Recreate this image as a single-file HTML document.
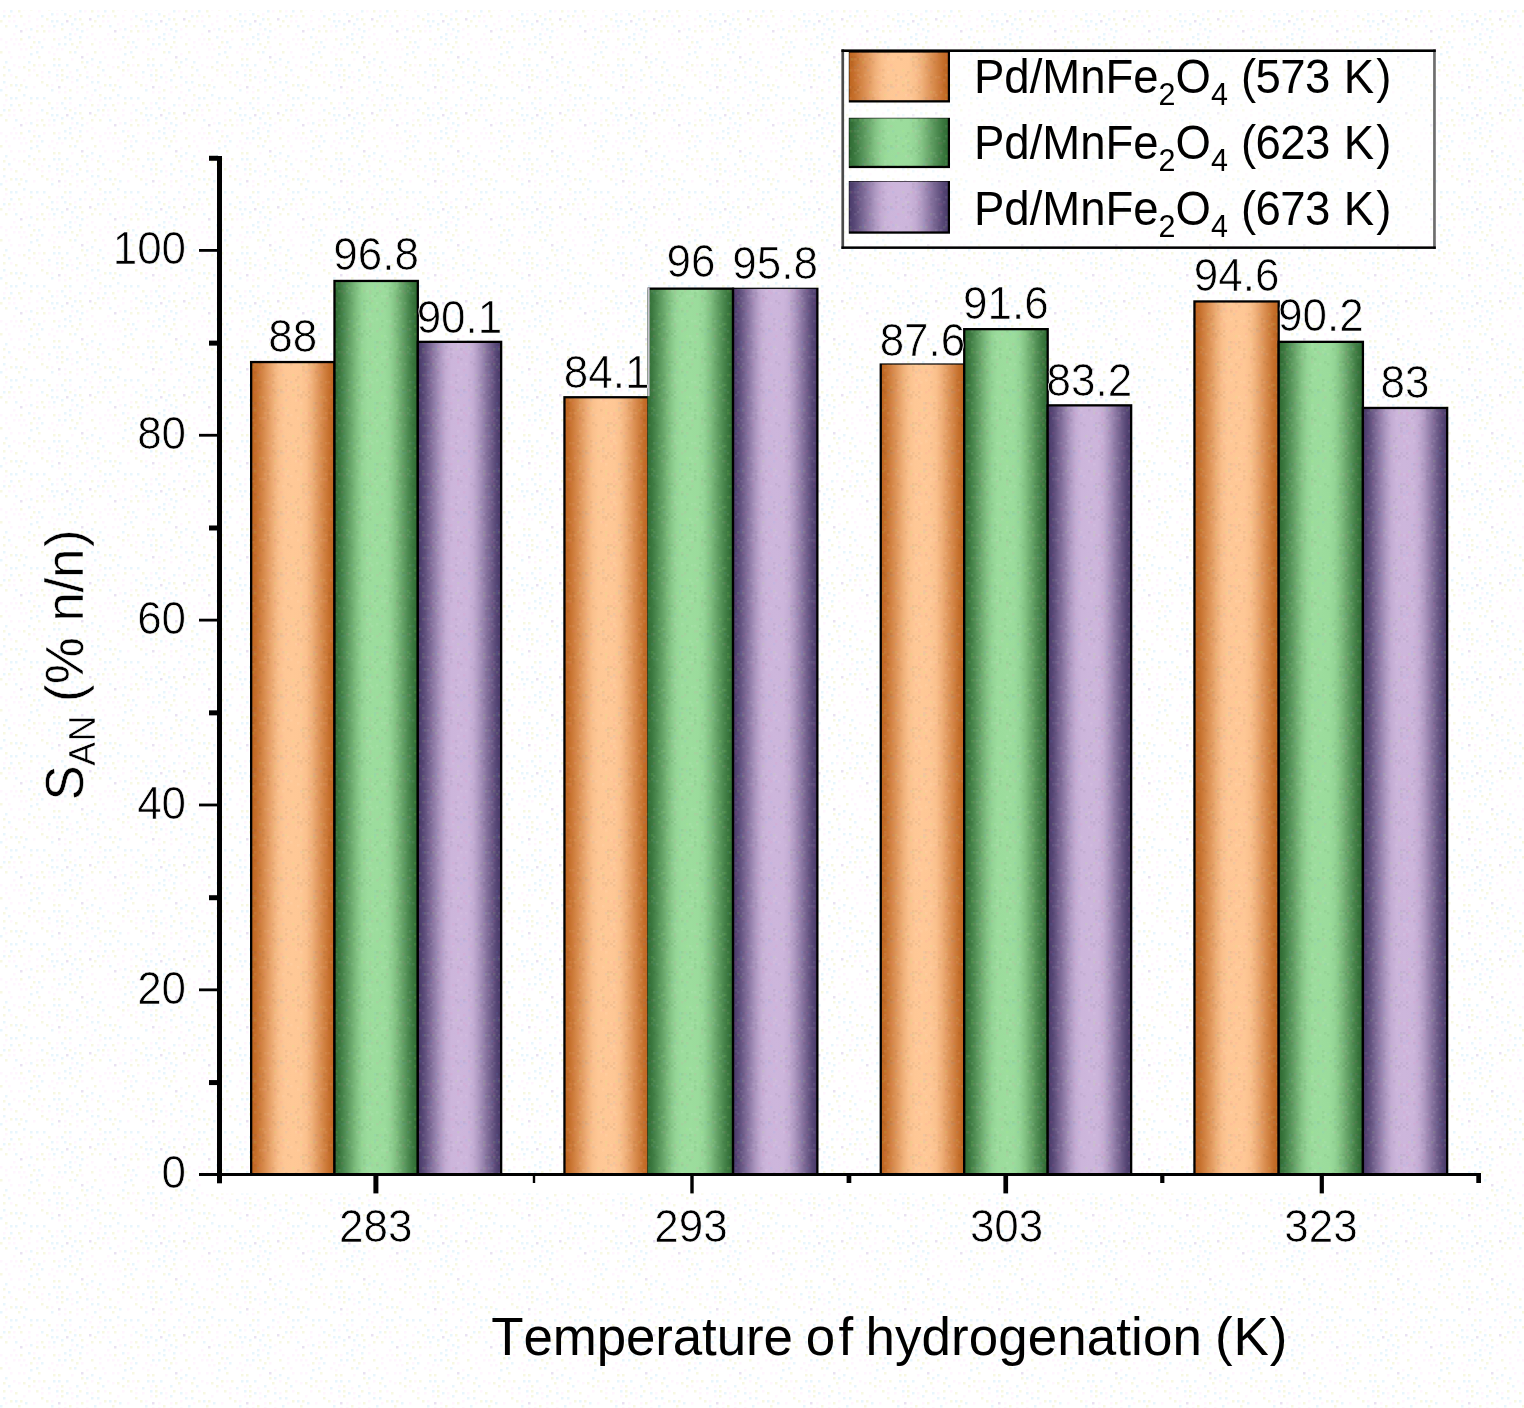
<!DOCTYPE html>
<html lang="en"><head><meta charset="utf-8"><title>Selectivity chart</title>
<style>
html,body{margin:0;padding:0;background:#fff;}
body{width:1524px;height:1408px;overflow:hidden;}
svg{display:block;}
text{font-family:"Liberation Sans", Arial, Helvetica, sans-serif;fill:#000;font-kerning:none;}
.t{font-size:46.1px;stroke:#fff;stroke-width:0.7px;paint-order:fill stroke;stroke-linejoin:round;}
.m{text-anchor:middle;}.e{text-anchor:end;}
.l{font-size:45.5px;}
.s{font-size:30.5px;}
.ax{font-size:52.9px;}
.as{font-size:35.5px;}
.th{stroke:#fff;stroke-width:0.5px;paint-order:fill stroke;}
</style></head><body>
<svg width="1524" height="1408" viewBox="0 0 1524 1408">
<defs>
<linearGradient id="o" x1="0" y1="0" x2="1" y2="0">
<stop offset="0" stop-color="#bf651f"/><stop offset="0.05" stop-color="#c56f2b"/><stop offset="0.1" stop-color="#cf7e3d"/><stop offset="0.18" stop-color="#df965a"/><stop offset="0.26" stop-color="#efaf78"/><stop offset="0.33" stop-color="#fac08c"/><stop offset="0.4" stop-color="#fec795"/><stop offset="0.5" stop-color="#ffc896"/><stop offset="0.6" stop-color="#fec795"/><stop offset="0.67" stop-color="#fac08c"/><stop offset="0.74" stop-color="#efaf78"/><stop offset="0.82" stop-color="#df965a"/><stop offset="0.9" stop-color="#cf7e3d"/><stop offset="0.95" stop-color="#c56f2b"/><stop offset="1" stop-color="#bf651f"/>
</linearGradient>
<linearGradient id="g" x1="0" y1="0" x2="1" y2="0">
<stop offset="0" stop-color="#2f6c33"/><stop offset="0.05" stop-color="#3a773e"/><stop offset="0.1" stop-color="#4a884e"/><stop offset="0.18" stop-color="#66a468"/><stop offset="0.26" stop-color="#81c182"/><stop offset="0.33" stop-color="#93d495"/><stop offset="0.4" stop-color="#9bdc9c"/><stop offset="0.5" stop-color="#9cdd9d"/><stop offset="0.6" stop-color="#9bdc9c"/><stop offset="0.67" stop-color="#93d495"/><stop offset="0.74" stop-color="#81c182"/><stop offset="0.82" stop-color="#66a468"/><stop offset="0.9" stop-color="#4a884e"/><stop offset="0.95" stop-color="#3a773e"/><stop offset="1" stop-color="#2f6c33"/>
</linearGradient>
<linearGradient id="p" x1="0" y1="0" x2="1" y2="0">
<stop offset="0" stop-color="#4a3b6b"/><stop offset="0.05" stop-color="#574776"/><stop offset="0.1" stop-color="#6b5a87"/><stop offset="0.18" stop-color="#8c78a4"/><stop offset="0.26" stop-color="#ac97c0"/><stop offset="0.33" stop-color="#c3acd3"/><stop offset="0.4" stop-color="#ccb5db"/><stop offset="0.5" stop-color="#cdb6dc"/><stop offset="0.6" stop-color="#ccb5db"/><stop offset="0.67" stop-color="#c3acd3"/><stop offset="0.74" stop-color="#ac97c0"/><stop offset="0.82" stop-color="#8c78a4"/><stop offset="0.9" stop-color="#6b5a87"/><stop offset="0.95" stop-color="#574776"/><stop offset="1" stop-color="#4a3b6b"/>
</linearGradient>
<pattern id="n" width="94" height="94" patternUnits="userSpaceOnUse">
<path fill="#fff6fe" d="M28 15h2.5v2.5h-2.5zM23 23h2.5v2.5h-2.5zM76 91h2.5v2.5h-2.5zM53 30h2.5v2.5h-2.5zM10 74h2.5v2.5h-2.5zM28 74h2.5v2.5h-2.5zM51 84h2.5v2.5h-2.5zM36 25h2.5v2.5h-2.5zM41 76h2.5v2.5h-2.5zM23 8h2.5v2.5h-2.5zM13 64h2.5v2.5h-2.5zM71 58h2.5v2.5h-2.5zM8 20h2.5v2.5h-2.5zM58 91h2.5v2.5h-2.5zM25 48h2.5v2.5h-2.5zM36 18h2.5v2.5h-2.5zM38 64h2.5v2.5h-2.5zM3 10h2.5v2.5h-2.5zM74 33h2.5v2.5h-2.5zM36 46h2.5v2.5h-2.5zM33 86h2.5v2.5h-2.5zM48 25h2.5v2.5h-2.5zM33 36h2.5v2.5h-2.5zM48 51h2.5v2.5h-2.5zM38 10h2.5v2.5h-2.5zM86 71h2.5v2.5h-2.5zM20 48h2.5v2.5h-2.5zM43 38h2.5v2.5h-2.5zM48 76h2.5v2.5h-2.5zM86 91h2.5v2.5h-2.5zM25 28h2.5v2.5h-2.5zM8 51h2.5v2.5h-2.5zM71 28h2.5v2.5h-2.5zM69 71h2.5v2.5h-2.5zM56 69h2.5v2.5h-2.5zM71 76h2.5v2.5h-2.5zM56 8h2.5v2.5h-2.5zM13 43h2.5v2.5h-2.5zM69 8h2.5v2.5h-2.5zM76 86h2.5v2.5h-2.5zM13 33h2.5v2.5h-2.5zM56 13h2.5v2.5h-2.5zM61 48h2.5v2.5h-2.5zM71 81h2.5v2.5h-2.5zM56 48h2.5v2.5h-2.5zM91 33h2.5v2.5h-2.5zM18 56h2.5v2.5h-2.5zM56 79h2.5v2.5h-2.5zM53 53h2.5v2.5h-2.5zM23 56h2.5v2.5h-2.5zM86 36h2.5v2.5h-2.5zM64 86h2.5v2.5h-2.5zM51 46h2.5v2.5h-2.5zM18 43h2.5v2.5h-2.5zM23 79h2.5v2.5h-2.5zM5 46h2.5v2.5h-2.5zM15 38h2.5v2.5h-2.5zM89 5h2.5v2.5h-2.5zM10 56h2.5v2.5h-2.5zM84 10h2.5v2.5h-2.5zM64 91h2.5v2.5h-2.5zM91 64h2.5v2.5h-2.5zM91 0h2.5v2.5h-2.5zM5 41h2.5v2.5h-2.5zM28 20h2.5v2.5h-2.5zM58 38h2.5v2.5h-2.5zM48 30h2.5v2.5h-2.5zM86 84h2.5v2.5h-2.5zM10 38h2.5v2.5h-2.5zM5 5h2.5v2.5h-2.5zM0 38h2.5v2.5h-2.5zM81 46h2.5v2.5h-2.5zM41 71h2.5v2.5h-2.5zM23 43h2.5v2.5h-2.5zM5 86h2.5v2.5h-2.5zM86 28h2.5v2.5h-2.5zM13 15h2.5v2.5h-2.5zM13 20h2.5v2.5h-2.5zM33 69h2.5v2.5h-2.5zM18 66h2.5v2.5h-2.5zM74 13h2.5v2.5h-2.5zM86 53h2.5v2.5h-2.5zM91 76h2.5v2.5h-2.5z"/>
<path fill="#e8f6fd" d="M79 10h2.5v2.5h-2.5zM10 3h2.5v2.5h-2.5zM43 3h2.5v2.5h-2.5zM76 79h2.5v2.5h-2.5zM76 69h2.5v2.5h-2.5zM61 23h2.5v2.5h-2.5zM28 61h2.5v2.5h-2.5zM64 36h2.5v2.5h-2.5zM15 25h2.5v2.5h-2.5zM51 20h2.5v2.5h-2.5zM36 51h2.5v2.5h-2.5zM69 33h2.5v2.5h-2.5zM41 15h2.5v2.5h-2.5zM79 36h2.5v2.5h-2.5zM66 64h2.5v2.5h-2.5zM10 10h2.5v2.5h-2.5zM58 64h2.5v2.5h-2.5zM69 38h2.5v2.5h-2.5zM86 61h2.5v2.5h-2.5zM84 3h2.5v2.5h-2.5zM51 13h2.5v2.5h-2.5zM51 89h2.5v2.5h-2.5zM91 58h2.5v2.5h-2.5zM38 41h2.5v2.5h-2.5zM56 20h2.5v2.5h-2.5zM71 23h2.5v2.5h-2.5zM64 13h2.5v2.5h-2.5zM36 3h2.5v2.5h-2.5zM0 89h2.5v2.5h-2.5zM91 81h2.5v2.5h-2.5zM15 3h2.5v2.5h-2.5zM15 84h2.5v2.5h-2.5zM28 36h2.5v2.5h-2.5zM53 25h2.5v2.5h-2.5zM74 18h2.5v2.5h-2.5zM5 61h2.5v2.5h-2.5zM8 69h2.5v2.5h-2.5zM3 81h2.5v2.5h-2.5zM23 0h2.5v2.5h-2.5zM53 64h2.5v2.5h-2.5zM25 86h2.5v2.5h-2.5zM56 74h2.5v2.5h-2.5zM41 46h2.5v2.5h-2.5zM48 71h2.5v2.5h-2.5zM86 76h2.5v2.5h-2.5zM69 3h2.5v2.5h-2.5zM30 28h2.5v2.5h-2.5zM66 76h2.5v2.5h-2.5zM3 15h2.5v2.5h-2.5zM64 43h2.5v2.5h-2.5zM61 8h2.5v2.5h-2.5zM58 43h2.5v2.5h-2.5zM76 28h2.5v2.5h-2.5zM30 3h2.5v2.5h-2.5zM74 51h2.5v2.5h-2.5zM81 30h2.5v2.5h-2.5zM30 53h2.5v2.5h-2.5z"/>
<path fill="#f7f8e2" d="M3 66h2.5v2.5h-2.5zM0 20h2.5v2.5h-2.5zM18 10h2.5v2.5h-2.5zM46 18h2.5v2.5h-2.5zM69 89h2.5v2.5h-2.5zM33 41h2.5v2.5h-2.5zM79 41h2.5v2.5h-2.5zM84 66h2.5v2.5h-2.5zM91 10h2.5v2.5h-2.5zM81 23h2.5v2.5h-2.5zM20 38h2.5v2.5h-2.5zM58 58h2.5v2.5h-2.5zM61 79h2.5v2.5h-2.5zM5 25h2.5v2.5h-2.5zM41 81h2.5v2.5h-2.5zM38 56h2.5v2.5h-2.5zM28 69h2.5v2.5h-2.5zM20 15h2.5v2.5h-2.5zM69 15h2.5v2.5h-2.5zM30 8h2.5v2.5h-2.5zM3 74h2.5v2.5h-2.5zM91 43h2.5v2.5h-2.5zM81 86h2.5v2.5h-2.5zM15 76h2.5v2.5h-2.5zM23 66h2.5v2.5h-2.5zM30 46h2.5v2.5h-2.5zM18 89h2.5v2.5h-2.5zM33 64h2.5v2.5h-2.5zM10 84h2.5v2.5h-2.5zM61 28h2.5v2.5h-2.5zM64 3h2.5v2.5h-2.5zM71 43h2.5v2.5h-2.5zM0 51h2.5v2.5h-2.5zM91 25h2.5v2.5h-2.5zM53 38h2.5v2.5h-2.5zM43 64h2.5v2.5h-2.5zM53 58h2.5v2.5h-2.5zM5 0h2.5v2.5h-2.5zM43 30h2.5v2.5h-2.5zM20 84h2.5v2.5h-2.5zM79 74h2.5v2.5h-2.5zM41 25h2.5v2.5h-2.5zM8 15h2.5v2.5h-2.5zM79 18h2.5v2.5h-2.5zM81 61h2.5v2.5h-2.5zM48 8h2.5v2.5h-2.5zM36 30h2.5v2.5h-2.5zM61 74h2.5v2.5h-2.5zM46 84h2.5v2.5h-2.5zM36 74h2.5v2.5h-2.5zM69 51h2.5v2.5h-2.5zM76 46h2.5v2.5h-2.5zM61 69h2.5v2.5h-2.5z"/>
<path fill="#e9e1f2" d="M89 18h2.5v2.5h-2.5zM66 20h2.5v2.5h-2.5zM81 56h2.5v2.5h-2.5zM20 30h2.5v2.5h-2.5zM58 86h2.5v2.5h-2.5z"/>
</pattern>
<pattern id="b" width="61" height="61" patternUnits="userSpaceOnUse">
<path fill="#000" fill-opacity="0.045" d="M0 28h2.5v2.5h-2.5zM0 56h2.5v2.5h-2.5zM3 25h2.5v2.5h-2.5zM3 30h2.5v2.5h-2.5zM3 58h2.5v2.5h-2.5zM8 51h2.5v2.5h-2.5zM10 5h2.5v2.5h-2.5zM10 36h2.5v2.5h-2.5zM10 48h2.5v2.5h-2.5zM15 15h2.5v2.5h-2.5zM15 20h2.5v2.5h-2.5zM15 58h2.5v2.5h-2.5zM18 0h2.5v2.5h-2.5zM18 36h2.5v2.5h-2.5zM18 41h2.5v2.5h-2.5zM23 43h2.5v2.5h-2.5zM23 48h2.5v2.5h-2.5zM23 51h2.5v2.5h-2.5zM28 8h2.5v2.5h-2.5zM28 15h2.5v2.5h-2.5zM28 23h2.5v2.5h-2.5zM30 25h2.5v2.5h-2.5zM30 51h2.5v2.5h-2.5zM33 43h2.5v2.5h-2.5zM33 53h2.5v2.5h-2.5zM36 23h2.5v2.5h-2.5zM41 13h2.5v2.5h-2.5zM41 18h2.5v2.5h-2.5zM43 56h2.5v2.5h-2.5zM46 58h2.5v2.5h-2.5zM48 23h2.5v2.5h-2.5zM51 13h2.5v2.5h-2.5zM51 43h2.5v2.5h-2.5zM53 10h2.5v2.5h-2.5zM53 20h2.5v2.5h-2.5zM53 28h2.5v2.5h-2.5zM56 28h2.5v2.5h-2.5zM56 30h2.5v2.5h-2.5zM58 0h2.5v2.5h-2.5zM58 3h2.5v2.5h-2.5zM58 25h2.5v2.5h-2.5zM58 56h2.5v2.5h-2.5z"/>
<path fill="#fff" fill-opacity="0.07" d="M0 8h2.5v2.5h-2.5zM0 18h2.5v2.5h-2.5zM0 30h2.5v2.5h-2.5zM0 46h2.5v2.5h-2.5zM0 58h2.5v2.5h-2.5zM3 8h2.5v2.5h-2.5zM3 13h2.5v2.5h-2.5zM3 28h2.5v2.5h-2.5zM5 15h2.5v2.5h-2.5zM5 25h2.5v2.5h-2.5zM5 51h2.5v2.5h-2.5zM8 53h2.5v2.5h-2.5zM10 13h2.5v2.5h-2.5zM10 58h2.5v2.5h-2.5zM15 51h2.5v2.5h-2.5zM18 30h2.5v2.5h-2.5zM18 51h2.5v2.5h-2.5zM20 15h2.5v2.5h-2.5zM20 33h2.5v2.5h-2.5zM20 46h2.5v2.5h-2.5zM20 51h2.5v2.5h-2.5zM23 15h2.5v2.5h-2.5zM25 30h2.5v2.5h-2.5zM25 46h2.5v2.5h-2.5zM28 18h2.5v2.5h-2.5zM30 3h2.5v2.5h-2.5zM30 13h2.5v2.5h-2.5zM30 38h2.5v2.5h-2.5zM30 41h2.5v2.5h-2.5zM33 10h2.5v2.5h-2.5zM33 46h2.5v2.5h-2.5zM33 58h2.5v2.5h-2.5zM38 58h2.5v2.5h-2.5zM41 46h2.5v2.5h-2.5zM43 15h2.5v2.5h-2.5zM43 23h2.5v2.5h-2.5zM43 43h2.5v2.5h-2.5zM46 48h2.5v2.5h-2.5zM51 18h2.5v2.5h-2.5zM51 33h2.5v2.5h-2.5zM53 51h2.5v2.5h-2.5zM56 25h2.5v2.5h-2.5zM56 36h2.5v2.5h-2.5z"/>
<path fill="#ff5fa0" fill-opacity="0.08" d="M0 13h2.5v2.5h-2.5zM3 18h2.5v2.5h-2.5zM3 20h2.5v2.5h-2.5zM3 46h2.5v2.5h-2.5zM3 48h2.5v2.5h-2.5zM3 53h2.5v2.5h-2.5zM5 5h2.5v2.5h-2.5zM5 56h2.5v2.5h-2.5zM10 3h2.5v2.5h-2.5zM10 25h2.5v2.5h-2.5zM10 41h2.5v2.5h-2.5zM13 23h2.5v2.5h-2.5zM13 36h2.5v2.5h-2.5zM13 46h2.5v2.5h-2.5zM15 5h2.5v2.5h-2.5zM20 53h2.5v2.5h-2.5zM20 58h2.5v2.5h-2.5zM23 20h2.5v2.5h-2.5zM23 36h2.5v2.5h-2.5zM25 8h2.5v2.5h-2.5zM25 20h2.5v2.5h-2.5zM25 28h2.5v2.5h-2.5zM30 53h2.5v2.5h-2.5zM30 56h2.5v2.5h-2.5zM36 3h2.5v2.5h-2.5zM36 38h2.5v2.5h-2.5zM36 46h2.5v2.5h-2.5zM38 48h2.5v2.5h-2.5zM41 23h2.5v2.5h-2.5zM43 30h2.5v2.5h-2.5zM53 33h2.5v2.5h-2.5zM58 8h2.5v2.5h-2.5zM58 46h2.5v2.5h-2.5z"/>
<path fill="#b8ff6a" fill-opacity="0.1" d="M5 43h2.5v2.5h-2.5zM5 58h2.5v2.5h-2.5zM8 0h2.5v2.5h-2.5zM10 43h2.5v2.5h-2.5zM15 30h2.5v2.5h-2.5zM28 43h2.5v2.5h-2.5zM30 33h2.5v2.5h-2.5zM36 20h2.5v2.5h-2.5zM41 41h2.5v2.5h-2.5zM48 8h2.5v2.5h-2.5zM48 20h2.5v2.5h-2.5zM48 28h2.5v2.5h-2.5zM53 18h2.5v2.5h-2.5zM56 8h2.5v2.5h-2.5zM56 43h2.5v2.5h-2.5zM56 46h2.5v2.5h-2.5zM58 58h2.5v2.5h-2.5z"/>
<path fill="#5aa8ff" fill-opacity="0.08" d="M0 5h2.5v2.5h-2.5zM3 3h2.5v2.5h-2.5zM8 36h2.5v2.5h-2.5zM8 41h2.5v2.5h-2.5zM8 43h2.5v2.5h-2.5zM13 8h2.5v2.5h-2.5zM15 38h2.5v2.5h-2.5zM33 23h2.5v2.5h-2.5zM33 28h2.5v2.5h-2.5zM36 25h2.5v2.5h-2.5zM38 8h2.5v2.5h-2.5zM38 25h2.5v2.5h-2.5zM38 41h2.5v2.5h-2.5zM41 33h2.5v2.5h-2.5zM43 48h2.5v2.5h-2.5zM46 15h2.5v2.5h-2.5zM53 23h2.5v2.5h-2.5zM56 58h2.5v2.5h-2.5z"/>
</pattern>
</defs>
<rect width="1524" height="1408" fill="#fff"/>
<rect width="1524" height="1408" fill="url(#n)"/>
<rect x="0" y="0" width="1524" height="10" fill="#fff"/>
<rect x="205" y="1176" width="1277" height="17.5" fill="#fff"/>
<rect x="250.00" y="360.90" width="85.63" height="813.60" fill="#000"/>
<rect x="252.30" y="363.20" width="81.03" height="811.30" fill="url(#o)"/>
<rect x="252.30" y="363.20" width="81.03" height="811.30" fill="url(#b)"/>
<rect x="333.33" y="279.80" width="85.63" height="894.70" fill="#000"/>
<rect x="335.63" y="282.10" width="81.03" height="892.40" fill="url(#g)"/>
<rect x="335.63" y="282.10" width="81.03" height="892.40" fill="url(#b)"/>
<rect x="416.67" y="340.70" width="85.63" height="833.80" fill="#000"/>
<rect x="418.97" y="343.00" width="81.03" height="831.50" fill="url(#p)"/>
<rect x="418.97" y="343.00" width="81.03" height="831.50" fill="url(#b)"/>
<rect x="563.30" y="396.10" width="86.60" height="778.40" fill="#000"/>
<rect x="565.60" y="398.40" width="82.00" height="776.10" fill="url(#o)"/>
<rect x="565.60" y="398.40" width="82.00" height="776.10" fill="url(#b)"/>
<rect x="647.60" y="287.50" width="86.60" height="887.00" fill="#000"/>
<rect x="647.60" y="289.80" width="84.30" height="884.70" fill="url(#g)"/>
<rect x="647.60" y="289.80" width="84.30" height="884.70" fill="url(#b)"/>
<rect x="647.60" y="287.50" width="2" height="108.60" fill="#c9c2d0"/>
<rect x="731.90" y="287.70" width="86.60" height="886.80" fill="#000"/>
<rect x="734.20" y="288.90" width="82.00" height="885.60" fill="url(#p)"/>
<rect x="734.20" y="288.90" width="82.00" height="885.60" fill="url(#b)"/>
<rect x="879.60" y="363.40" width="85.77" height="811.10" fill="#000"/>
<rect x="881.90" y="364.60" width="81.17" height="809.90" fill="url(#o)"/>
<rect x="881.90" y="364.60" width="81.17" height="809.90" fill="url(#b)"/>
<rect x="963.07" y="328.00" width="85.77" height="846.50" fill="#000"/>
<rect x="965.37" y="330.30" width="81.17" height="844.20" fill="url(#g)"/>
<rect x="965.37" y="330.30" width="81.17" height="844.20" fill="url(#b)"/>
<rect x="1046.53" y="404.20" width="85.77" height="770.30" fill="#000"/>
<rect x="1048.83" y="406.50" width="81.17" height="768.00" fill="url(#p)"/>
<rect x="1048.83" y="406.50" width="81.17" height="768.00" fill="url(#b)"/>
<rect x="1193.30" y="300.30" width="86.53" height="874.20" fill="#000"/>
<rect x="1195.60" y="302.60" width="81.93" height="871.90" fill="url(#o)"/>
<rect x="1195.60" y="302.60" width="81.93" height="871.90" fill="url(#b)"/>
<rect x="1277.53" y="340.70" width="86.53" height="833.80" fill="#000"/>
<rect x="1279.83" y="343.00" width="81.93" height="831.50" fill="url(#g)"/>
<rect x="1279.83" y="343.00" width="81.93" height="831.50" fill="url(#b)"/>
<rect x="1361.77" y="406.80" width="86.53" height="767.70" fill="#000"/>
<rect x="1364.07" y="409.10" width="81.93" height="765.40" fill="url(#p)"/>
<rect x="1364.07" y="409.10" width="81.93" height="765.40" fill="url(#b)"/>
<text class="t m" transform="translate(292.82 352.40) scale(0.955 1)">88</text>
<text class="t m" transform="translate(376.15 269.90) scale(0.955 1)">96.8</text>
<text class="t m" transform="translate(459.48 332.50) scale(0.955 1)">90.1</text>
<text class="t m" transform="translate(606.60 388.20) scale(0.955 1)">84.1</text>
<text class="t m" transform="translate(690.90 276.50) scale(0.955 1)">96</text>
<text class="t m" transform="translate(775.20 279.20) scale(0.955 1)">95.8</text>
<text class="t m" transform="translate(922.48 355.60) scale(0.955 1)">87.6</text>
<text class="t m" transform="translate(1005.95 318.50) scale(0.955 1)">91.6</text>
<text class="t m" transform="translate(1089.42 395.70) scale(0.955 1)">83.2</text>
<text class="t m" transform="translate(1236.57 290.70) scale(0.955 1)">94.6</text>
<text class="t m" transform="translate(1320.80 330.90) scale(0.955 1)">90.2</text>
<text class="t m" transform="translate(1405.03 397.70) scale(0.955 1)">83</text>
<rect x="217" y="156" width="5" height="1027.3" fill="#000"/>
<rect x="199" y="1173" width="1282" height="3" fill="#000"/>
<text class="t e" transform="translate(186.10 1188.40) scale(0.955 1)">0</text>
<rect x="199" y="988.44" width="19" height="2.8" fill="#000"/>
<text class="t e" transform="translate(186.10 1003.54) scale(0.955 1)">20</text>
<rect x="199" y="803.58" width="19" height="2.8" fill="#000"/>
<text class="t e" transform="translate(186.10 818.68) scale(0.955 1)">40</text>
<rect x="199" y="618.72" width="19" height="2.8" fill="#000"/>
<text class="t e" transform="translate(186.10 633.82) scale(0.955 1)">60</text>
<rect x="199" y="433.86" width="19" height="2.8" fill="#000"/>
<text class="t e" transform="translate(186.10 448.96) scale(0.955 1)">80</text>
<rect x="199" y="249.00" width="19" height="2.8" fill="#000"/>
<text class="t e" transform="translate(186.10 264.10) scale(0.955 1)">100</text>
<rect x="209" y="1080.07" width="9" height="5" fill="#000"/>
<rect x="209" y="895.21" width="9" height="5" fill="#000"/>
<rect x="209" y="710.35" width="9" height="5" fill="#000"/>
<rect x="209" y="525.49" width="9" height="5" fill="#000"/>
<rect x="209" y="340.63" width="9" height="5" fill="#000"/>
<rect x="209" y="155.77" width="9" height="5" fill="#000"/>
<rect x="373.40" y="1174" width="5.00" height="19.4" fill="#000"/>
<text class="t m" transform="translate(375.80 1242.20) scale(0.955 1)">283</text>
<rect x="690.30" y="1174" width="3.40" height="19.4" fill="#000"/>
<text class="t m" transform="translate(691.00 1242.20) scale(0.955 1)">293</text>
<rect x="1003.40" y="1174" width="4.70" height="19.4" fill="#000"/>
<text class="t m" transform="translate(1006.60 1242.20) scale(0.955 1)">303</text>
<rect x="1319.70" y="1174" width="4.20" height="19.4" fill="#000"/>
<text class="t m" transform="translate(1321.00 1242.20) scale(0.955 1)">323</text>
<rect x="532.80" y="1174" width="2.40" height="9" fill="#000"/>
<rect x="846.60" y="1174" width="4.70" height="9" fill="#000"/>
<rect x="1160.20" y="1174" width="4.20" height="9" fill="#000"/>
<rect x="1476.30" y="1174" width="4.70" height="9" fill="#000"/>
<text class="ax" transform="translate(0 1355.3) scale(1 1.03)"><tspan x="491.20" letter-spacing="-0.100">Temperature</tspan> <tspan x="805.80" letter-spacing="3.400">of</tspan> <tspan x="865.40" letter-spacing="0.100">hydrogenation</tspan> <tspan x="1215.00" letter-spacing="0.900">(K)</tspan></text>
<text class="ax th" transform="translate(82.8 798.4) rotate(-90) scale(1 1.03)"><tspan x="-2.00">S</tspan><tspan x="32.60" letter-spacing="0.900" class="as" dy="11.94">AN</tspan> <tspan x="96.50" dy="-11.94">(%</tspan> <tspan x="177.00" letter-spacing="-0.400">n/n</tspan><tspan x="251.50">)</tspan></text>
<rect x="841.4" y="49.4" width="594.4" height="199.5" fill="#fff"/>
<rect x="844" y="52" width="589" height="194.5" fill="url(#n)" fill-opacity="0.6"/>
<rect x="841.4" y="49.4" width="2.7" height="199.5" fill="#4a4a4a"/>
<rect x="1433.1" y="49.4" width="2.7" height="199.5" fill="#6e6e6e"/>
<rect x="841.4" y="49.4" width="594.4" height="2.6" fill="#000"/>
<rect x="841.4" y="246.4" width="594.4" height="2.5" fill="#000"/>
<rect x="848.8" y="52.00" width="101.2" height="50.50" fill="#000"/>
<rect x="849.3" y="52.60" width="98.5" height="47.60" fill="url(#o)"/>
<rect x="849.3" y="52.60" width="98.5" height="47.60" fill="url(#b)"/>
<text class="l" transform="translate(0 93.10) scale(1 1.05)"><tspan x="974.00">Pd/MnFe<tspan class="s" dy="11.2">2</tspan><tspan dy="-11.2">O</tspan><tspan class="s" dy="11.2">4</tspan></tspan> <tspan x="1241.00" dy="-11.2" letter-spacing="-0.600">(573</tspan> <tspan x="1343.80" letter-spacing="2.000">K)</tspan></text>
<rect x="848.8" y="117.80" width="101.2" height="50.30" fill="#000"/>
<rect x="849.3" y="118.40" width="98.5" height="47.40" fill="url(#g)"/>
<rect x="849.3" y="118.40" width="98.5" height="47.40" fill="url(#b)"/>
<text class="l" transform="translate(0 159.00) scale(1 1.05)"><tspan x="974.00">Pd/MnFe<tspan class="s" dy="11.2">2</tspan><tspan dy="-11.2">O</tspan><tspan class="s" dy="11.2">4</tspan></tspan> <tspan x="1241.00" dy="-11.2" letter-spacing="-0.600">(623</tspan> <tspan x="1343.80" letter-spacing="2.000">K)</tspan></text>
<rect x="848.8" y="181.00" width="101.2" height="52.70" fill="#000"/>
<rect x="849.3" y="181.60" width="98.5" height="49.80" fill="url(#p)"/>
<rect x="849.3" y="181.60" width="98.5" height="49.80" fill="url(#b)"/>
<text class="l" transform="translate(0 224.80) scale(1 1.05)"><tspan x="974.00">Pd/MnFe<tspan class="s" dy="11.2">2</tspan><tspan dy="-11.2">O</tspan><tspan class="s" dy="11.2">4</tspan></tspan> <tspan x="1241.00" dy="-11.2" letter-spacing="-0.600">(673</tspan> <tspan x="1343.80" letter-spacing="2.000">K)</tspan></text>
</svg>
</body></html>
